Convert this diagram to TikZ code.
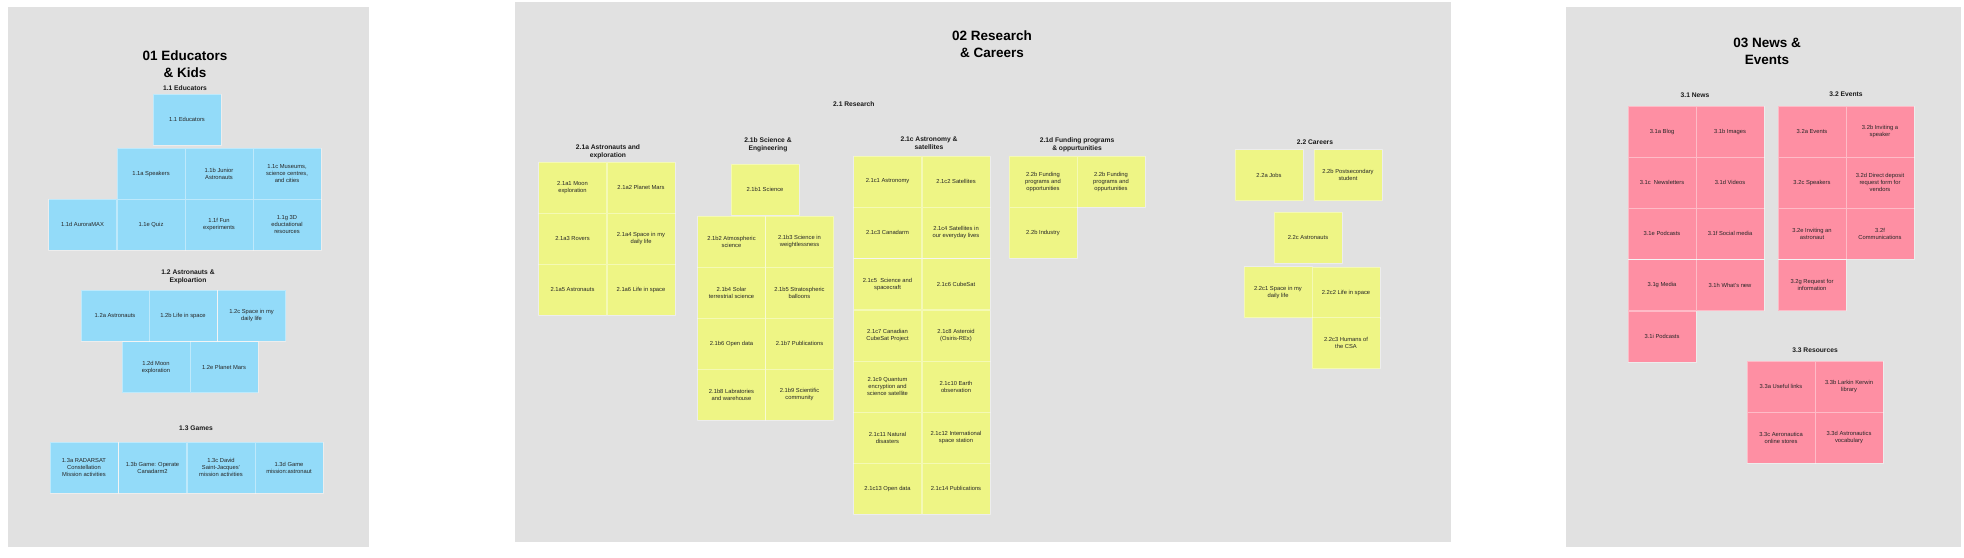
\documentclass[tikz,border=0pt]{standalone}
\usepackage{fontspec}
\setmainfont{Liberation Sans}
\usepackage{tikz}

\begin{document}
\begin{tikzpicture}[x=1pt, y=-1pt, line join=round,
    panel/.style={fill=panelgray, draw=none},
    ptitle/.style={align=center, inner sep=0pt, text=black,
      font=\bfseries\fontsize{13.5}{17}\selectfont},
    shead/.style={align=center, inner sep=0pt, text=black!90,
      font=\bfseries\fontsize{6.7}{8}\selectfont},
    card/.style={minimum width=68pt, minimum height=51pt, inner sep=0pt,
      align=center, text=black!85, draw=white, draw opacity=0.4,
      line width=0.6pt, font=\fontsize{5.8}{7}\selectfont},
    bluecard/.style={card, fill=cardblue},
    yellowcard/.style={card, fill=cardyellow},
    pinkcard/.style={card, fill=cardpink}]
    \definecolor{panelgray}{HTML}{E1E1E1}
    \definecolor{cardblue}{HTML}{93DBF9}
    \definecolor{cardyellow}{HTML}{EEF585}
    \definecolor{cardpink}{HTML}{FE8FA3}

    \useasboundingbox (0, 0) rectangle (1964, 557);

    % --- the three panels
    \fill[panel] (8, 7) rectangle (369, 547);
    \fill[panel] (515, 2) rectangle (1451, 542);
    \fill[panel] (1566, 7) rectangle (1961, 547);

    % --- 01 Educators & Kids
    \node[ptitle] (edutitle) at (185, 64) {01 Educators\\\& Kids};
    \node[shead] (h11) at (185, 88) {1.1 Educators};
    \node[shead] (h12) at (188, 277) {1.2 Astronauts \&\\Exploartion};
    \node[shead] (h13) at (196, 428) {1.3 Games};

    \foreach \name/\x/\y/\txt in {
        b11/187/119.5/{1.1 Educators},
        b11a/151/173.5/{1.1a Speakers},
        b11b/219/173.5/{1.1b Junior\\Astronauts},
        b11c/287/173.5/{1.1c Museums,\\science centres,\\and cities},
        b11d/82.5/224.5/{1.1d AuroraMAX},
        b11e/151/224.5/{1.1e Quiz},
        b11f/219/224.5/{1.1f Fun\\experiments},
        b11g/287/224.5/{1.1g 3D\\eductational\\resources},
        b12a/115/315.5/{1.2a Astronauts},
        b12b/183/315.5/{1.2b Life in space},
        b12c/251.5/315.5/{1.2c Space in my\\daily life},
        b12d/156/367/{1.2d Moon\\exploration},
        b12e/224/367/{1.2e Planet Mars},
        b13a/84/467.5/{1.3a RADARSAT\\Constellation\\Mission activities},
        b13b/152.5/467.5/{1.3b Game: Operate\\Canadarm2},
        b13c/221/467.5/{1.3c David\\Saint-Jacques'\\mission activities},
        b13d/289/467.5/{1.3d Game\\mission:astronaut}} {
      \node[bluecard] (\name) at (\x, \y) {\txt};
    }

    % --- 02 Research & Careers
    \node[ptitle] (restitle) at (992, 44) {02 Research\\\& Careers};
    \node[shead, anchor=west] (h21) at (833, 104) {2.1 Research};
    \node[shead] (h21a) at (608, 152) {2.1a Astronauts and\\exploration};
    \node[shead] (h21b) at (768, 144.5) {2.1b Science \&\\Engineering};
    \node[shead] (h21c) at (929, 143) {2.1c Astronomy \&\\satellites};
    \node[shead] (h21d) at (1077, 145) {2.1d Funding programs\\\& oppurtunities};
    \node[shead] (h22) at (1315, 142) {2.2 Careers};

    \foreach \name/\x/\y/\txt in {
        y21a1/572.5/187.5/{2.1a1 Moon\\exploration},
        y21a2/641/187.5/{2.1a2 Planet Mars},
        y21a3/572.5/238.5/{2.1a3 Rovers},
        y21a4/641/238.5/{2.1a4 Space in my\\daily life},
        y21a5/572.5/289.5/{2.1a5 Astronauts},
        y21a6/641/289.5/{2.1a6 Life in space},
        y21b1/765/189.5/{2.1b1 Science},
        y21b2/731.5/241.5/{2.1b2 Atmospheric\\science},
        y21b3/799.5/241.5/{2.1b3 Science in\\weightlessness},
        y21b4/731.5/292.5/{2.1b4 Solar\\terrestrial science},
        y21b5/799.5/292.5/{2.1b5 Stratospheric\\balloons},
        y21b6/731.5/343.5/{2.1b6 Open data},
        y21b7/799.5/343.5/{2.1b7 Publications},
        y21b8/731.5/394.5/{2.1b8 Labratories\\and warehouse},
        y21b9/799.5/394.5/{2.1b9 Scientific\\community}} {
      \node[yellowcard] (\name) at (\x, \y) {\txt};
    }

    \foreach \name/\x/\y/\txt in {
        y21c1/887.5/181.5/{2.1c1 Astronomy},
        y21c2/956/181.5/{2.1c2 Satellites},
        y21c3/887.5/232.5/{2.1c3 Canadarm},
        y21c4/956/232.5/{2.1c4 Satellites in\\our everyday lives},
        y21c5/887.5/284/{2.1c5~ Science and\\spacecraft},
        y21c6/956/284/{2.1c6 CubeSat},
        y21c7/887.5/335.5/{2.1c7 Canadian\\CubeSat Project},
        y21c8/956/335.5/{2.1c8 Asteroid\\(Osiris-REx)},
        y21c9/887.5/386.5/{2.1c9 Quantum\\encryption and\\science satellite},
        y21c10/956/386.5/{2.1c10 Earth\\observation},
        y21c11/887.5/437.5/{2.1c11 Natural\\disasters},
        y21c12/956/437.5/{2.1c12 International\\space station},
        y21c13/887.5/488.5/{2.1c13 Open data},
        y21c14/956/488.5/{2.1c14 Publications},
        y21d1/1043/181.5/{2.2b Funding\\programs and\\opportunities},
        y21d2/1111/181.5/{2.2b Funding\\programs and\\oppurtunities},
        y21d3/1043/232.5/{2.2b Industry},
        y22a/1269/175/{2.2a Jobs},
        y22b/1348/175/{2.2b Postsecondary\\student},
        y22c/1308/237.5/{2.2c Astronauts},
        y22c1/1278/292/{2.2c1 Space in my\\daily life},
        y22c2/1346/292.5/{2.2c2 Life in space},
        y22c3/1346/343/{2.2c3 Humans of\\the CSA}} {
      \node[yellowcard] (\name) at (\x, \y) {\txt};
    }

    % --- 03 News & Events
    \node[ptitle] (newstitle) at (1767, 51.5) {03 News \&\\Events};
    \node[shead] (h31) at (1695, 95) {3.1 News};
    \node[shead] (h32) at (1846, 94) {3.2 Events};
    \node[shead] (h33) at (1815, 350) {3.3 Resources};

    \foreach \name/\x/\y/\txt in {
        p31a/1662/131.5/{3.1a Blog},
        p31b/1730/131.5/{3.1b Images},
        p31c/1662/182.5/{3.1c~ Newsletters},
        p31d/1730/182.5/{3.1d Videos},
        p31e/1662/233.5/{3.1e Podcasts},
        p31f/1730/233.5/{3.1f Social media},
        p31g/1662/285/{3.1g Media},
        p31h/1730/285/{3.1h What's new},
        p31i/1662/336.5/{3.1i Podcasts},
        p32a/1812/131.5/{3.2a Events},
        p32b/1880/131.5/{3.2b Inviting a\\speaker},
        p32c/1812/182.5/{3.2c Speakers},
        p32d/1880/182.5/{3.2d Direct deposit\\request form for\\vendors},
        p32e/1812/233.5/{3.2e Inviting an\\astronaut},
        p32f/1880/233.5/{3.2f\\Communications},
        p32g/1812/285/{3.2g Request for\\information},
        p33a/1781/386.5/{3.3a Useful links},
        p33b/1849/386.5/{3.3b Larkin Kerwin\\library},
        p33c/1781/437.5/{3.3c Aeronautica\\online stores},
        p33d/1849/437.5/{3.3d Astronautics\\vocabulary}} {
      \node[pinkcard] (\name) at (\x, \y) {\txt};
    }
\end{tikzpicture}
\end{document}
